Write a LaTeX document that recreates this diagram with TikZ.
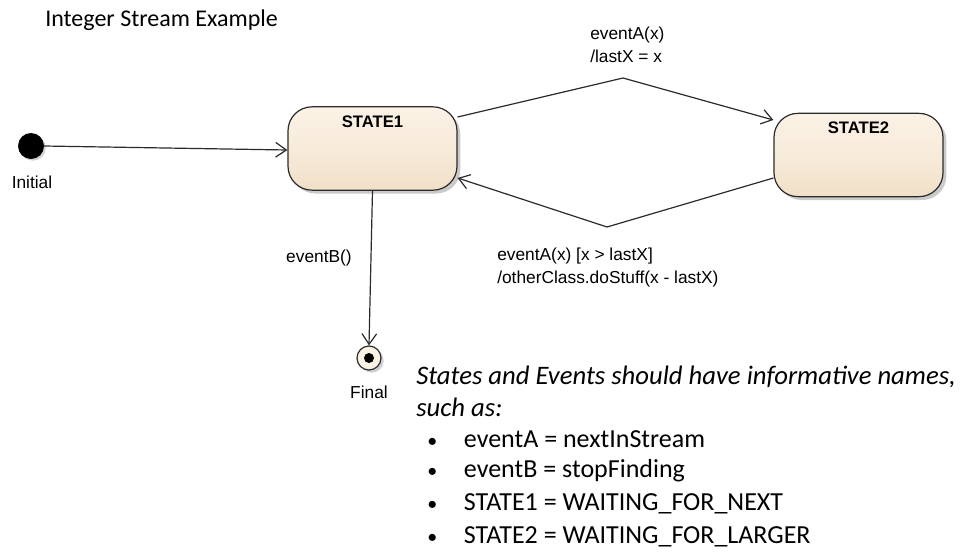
\documentclass[tikz,border=0pt]{standalone}
\usepackage{fontspec}
\setmainfont{Liberation Sans}
\newfontfamily\notefont{Carlito}
\usetikzlibrary{arrows.meta,shadows,calc}

\definecolor{statetop}{HTML}{FBF2E6}
\definecolor{statebot}{HTML}{F1E0C8}
\definecolor{edgeline}{HTML}{2B2B2B}

\tikzset{
  statebox/.style={
    rectangle, rounded corners=18pt, draw=edgeline, line width=0.9pt,
    top color=statetop, bottom color=statebot, middle color=statetop!60!statebot,
    minimum width=126.75pt, minimum height=62.5pt, inner sep=0pt,
    drop shadow={shadow xshift=2.5pt, shadow yshift=-2.5pt, fill=black!35, opacity=0.6}
  },
  statetitle/.style={font=\fontsize{12.5}{14}\selectfont\bfseries, anchor=north, inner sep=0pt},
  lbl/.style={font=\fontsize{13}{17.2}\selectfont, inner sep=0pt},
  trans/.style={draw=edgeline, line width=0.9pt, -{Straight Barb[length=8pt,width=11pt,line width=0.9pt]}},
  initdot/.style={circle, fill=black, draw=black, minimum size=19pt, inner sep=0pt,
    drop shadow={shadow xshift=1.5pt, shadow yshift=-1.5pt, fill=black!30, opacity=0.6}},
  finring/.style={circle, draw=edgeline, line width=0.9pt, fill=statetop, minimum size=18pt, inner sep=0pt,
    drop shadow={shadow xshift=2pt, shadow yshift=-2pt, fill=black!30, opacity=0.6}},
  findot/.style={circle, fill=black, minimum size=7.5pt, inner sep=0pt},
  note/.style={font=\notefont\fontsize{19.5}{24}\selectfont, anchor=west, inner sep=0pt},
  italicnote/.style={note, font=\notefont\fontsize{20}{24}\selectfont\itshape},
  bulletnote/.style={note, execute at begin node={\makebox[27.5pt][l]{\fontsize{15}{15}\selectfont\textbullet}}}
}

\begin{document}
\begin{tikzpicture}[x=0.75pt, y=-0.75pt]
  \useasboundingbox (0,0) rectangle (961,554);

  % heading
  \node[font=\notefont\fontsize{18}{20}\selectfont, anchor=west, inner sep=0pt] (title) at (45,20) {Integer Stream Example};

  % pseudo states
  \node[initdot] (init) at (31,146) {};
  \node[lbl] (initlbl) at (32,182) {Initial};
  \node[finring] (fin) at (369,358) {};
  \node[findot] (findot) at (fin.center) {};
  \node[lbl] (finlbl) at (369,392) {Final};

  % states
  \node[statebox] (s1) at (372.5,148.5) {};
  \node[statetitle] (s1t) at ([shift={(0,9)}]s1.north) {STATE1};
  \node[statebox] (s2) at (858.5,155) {};
  \node[statetitle] (s2t) at ([shift={(0,9)}]s2.north) {STATE2};

  % bend points of the two eventA transitions
  \coordinate (upper) at (623,78);
  \coordinate (lower) at (607,227);

  % transitions
  \draw[trans] (init.east) -- ([shift={(0,1.5)}]s1.west);
  \draw[trans] ([shift={(0,-31.5)}]s1.east) -- (upper) -- ([shift={(0,-35)}]s2.west);
  \draw[trans] ([shift={(0,23)}]s2.west) -- (lower) -- ([shift={(0,29.5)}]s1.east);
  \draw[trans] (s1.south) -- (fin.north);

  % transition labels
  \node[lbl, anchor=west, align=left] (lblA) at (590,45) {eventA(x)\\/lastX = x};
  \node[lbl, anchor=west, align=left] (lblA2) at (497,267.5) {eventA(x) [x \textgreater{} lastX]\\/otherClass.doStuff(x - lastX)};
  \node[lbl] (lblB) at (319,258) {eventB()};

  % naming advice
  \node[italicnote] (n1) at (416,377) {States and Events should have informative names,};
  \node[italicnote] (n2) at (416,407) {such as:};
  \node[bulletnote] (b1) at (427,439) {eventA = nextInStream};
  \node[bulletnote] (b2) at (427,471) {eventB = stopFinding};
  \node[bulletnote] (b3) at (427,504) {STATE1 = WAITING\_FOR\_NEXT};
  \node[bulletnote] (b4) at (427,537) {STATE2 = WAITING\_FOR\_LARGER};
\end{tikzpicture}
\end{document}
